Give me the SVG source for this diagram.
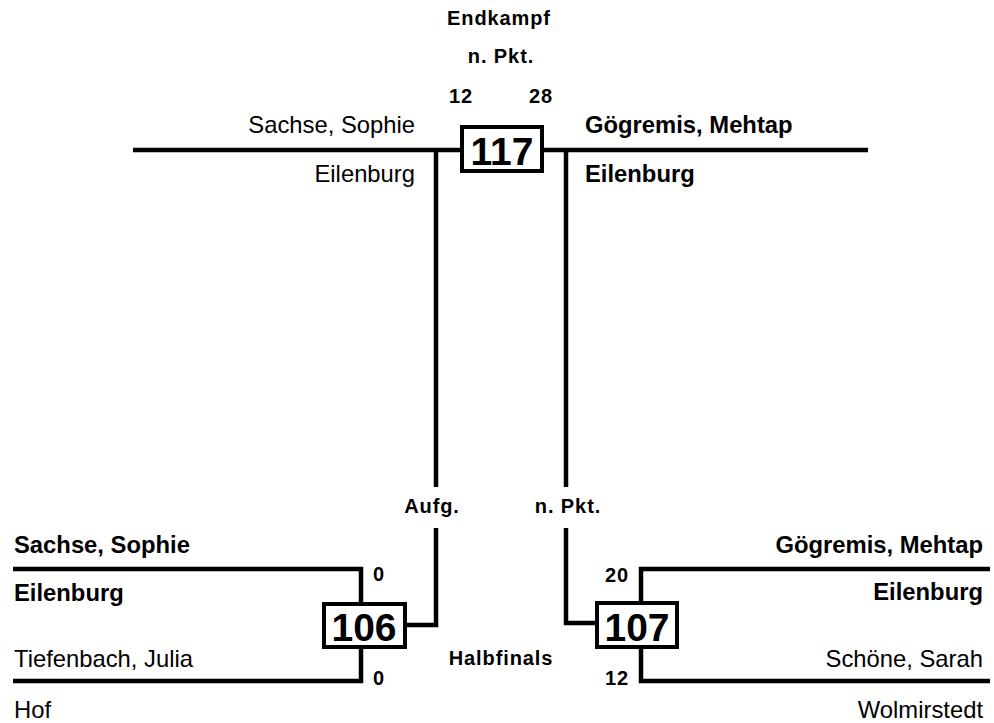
<svg xmlns="http://www.w3.org/2000/svg" width="994" height="723" viewBox="0 0 994 723">
<style>
text{font-family:"Liberation Sans",Arial,sans-serif;fill:#000}
.nm{font-size:23.8px}
.b{font-weight:bold}
.lb{font-size:20px;font-weight:bold;letter-spacing:0.9px}
.num{font-size:39px;font-weight:bold}
.ln{fill:none;stroke:#000;stroke-width:4.5;stroke-linecap:butt;stroke-linejoin:miter}
.box{fill:#fff;stroke:#000;stroke-width:4}
</style>
<rect width="994" height="723" fill="#fff"/>
<g id="connectors">
<path class="ln" d="M133 150 H868"/>
<path class="ln" d="M436 150 V487 M436 528 V625 H405"/>
<path class="ln" d="M566 150 V487 M566 528 V623 H597"/>
<path class="ln" d="M13 569 H361 V604 M361 647 V681 H13"/>
<path class="ln" d="M990 569 H641 V603 M641 647 V681 H990"/>
</g>
<g id="titles">
<text class="lb" x="499" y="25" text-anchor="middle">Endkampf</text>
<text class="lb" x="501" y="63" text-anchor="middle">n. Pkt.</text>
<text class="lb" x="461" y="103" text-anchor="middle">12</text>
<text class="lb" x="541" y="103" text-anchor="middle">28</text>
<text class="lb" x="432" y="513" text-anchor="middle">Aufg.</text>
<text class="lb" x="568" y="513" text-anchor="middle">n. Pkt.</text>
<text class="lb" x="501" y="665" text-anchor="middle">Halbfinals</text>
</g>
<g id="node-117">
<rect class="box" x="462" y="127" width="80" height="44"/>
<text class="num" x="502" y="165" text-anchor="middle">117</text>
<text class="nm" x="415" y="133" text-anchor="end">Sachse, Sophie</text>
<text class="nm" x="415" y="182" text-anchor="end">Eilenburg</text>
<text class="nm b" x="585" y="133">Gögremis, Mehtap</text>
<text class="nm b" x="585" y="182">Eilenburg</text>
</g>
<g id="node-106">
<rect class="box" x="324" y="604" width="81" height="43"/>
<text class="num" x="364" y="641" text-anchor="middle">106</text>
<text class="lb" x="373" y="581">0</text>
<text class="lb" x="373" y="685">0</text>
<text class="nm b" x="14" y="553">Sachse, Sophie</text>
<text class="nm b" x="14" y="601">Eilenburg</text>
<text class="nm" x="14" y="667">Tiefenbach, Julia</text>
<text class="nm" x="14" y="718">Hof</text>
</g>
<g id="node-107">
<rect class="box" x="597" y="603" width="80" height="44"/>
<text class="num" x="637" y="641" text-anchor="middle">107</text>
<text class="lb" x="629" y="582" text-anchor="end">20</text>
<text class="lb" x="629" y="685" text-anchor="end">12</text>
<text class="nm b" x="983" y="553" text-anchor="end">Gögremis, Mehtap</text>
<text class="nm b" x="983" y="600" text-anchor="end">Eilenburg</text>
<text class="nm" x="983" y="667" text-anchor="end">Schöne, Sarah</text>
<text class="nm" x="983" y="718" text-anchor="end">Wolmirstedt</text>
</g>
</svg>
